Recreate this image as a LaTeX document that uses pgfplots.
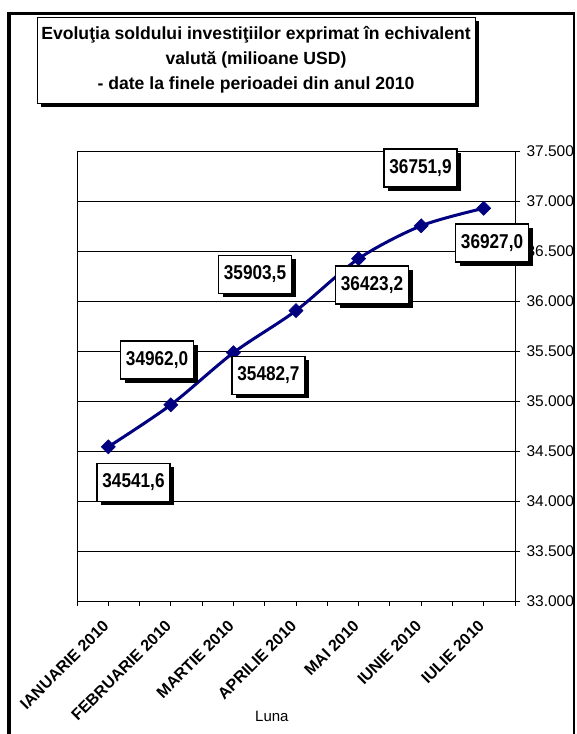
\documentclass[border=0pt]{standalone}
\usepackage{fontspec}
\setmainfont{Liberation Sans}
\usepackage{graphicx}
\usepackage{pgfplots}
\pgfplotsset{compat=1.18}
\usetikzlibrary{shadows}
\definecolor{navy}{RGB}{0,0,128}
\newcommand{\lbltext}[1]{\scalebox{0.86}[1]{\fontsize{20}{20}\selectfont\bfseries #1}}
\begin{document}
\begin{tikzpicture}[x=1pt,y=1pt,
  lbl/.style={draw, line width=1.2pt, fill=white, inner sep=0pt,
    general shadow={fill=black, shadow xshift=4pt, shadow yshift=-4pt},
    minimum width=73pt, minimum height=38pt}]
\useasboundingbox (0,0) rectangle (576,734);
\fill[white] (0,0) rectangle (576,734);
% title
\node[draw, line width=0.8pt, fill=white,
  general shadow={fill=black, shadow xshift=4pt, shadow yshift=-4pt},
  minimum width=438pt, minimum height=86pt, align=center,
  font=\fontsize{17.6}{25}\selectfont\bfseries] at (256,674)
  {Evoluţia soldului investiţiilor exprimat în echivalent\\valută (milioane USD)\\- date la finele perioadei din anul 2010};
\begin{axis}[at={(77pt,133pt)}, anchor=south west, scale only axis,
  width=438pt, height=450pt,
  xmin=0, xmax=7, ymin=33000, ymax=37500,
  scaled y ticks=false,
  axis line style={line width=0.8pt},
  ytick={33000,33500,...,37500},
  yticklabels={33.000,33.500,34.000,34.500,35.000,35.500,36.000,36.500,37.000,37.500},
  ytick pos=right, yticklabel pos=right,
  ymajorgrids, grid style={black, line width=0.6pt},
  tick align=outside, major tick length=5pt, minor tick length=5pt,
  tick style={black, line width=0.8pt},
  xtick={0.5,1.5,...,6.5},
  xticklabels={IANUARIE 2010,FEBRUARIE 2010,MARTIE 2010,APRILIE 2010,MAI 2010,IUNIE 2010,IULIE 2010},
  minor xtick={0,1,...,7},
  xtick pos=bottom,
  xticklabel shift=15pt,
  x tick label style={font=\fontsize{16}{16}\selectfont\bfseries, rotate=45, anchor=east},
  y tick label style={font=\fontsize{15.5}{16}\selectfont, anchor=west, xshift=3pt},
  xlabel={Luna},
  xlabel style={at={(axis description cs:0.445,0)}, yshift=-115pt, anchor=center, font=\fontsize{15}{15}\selectfont},
  clip=false]
\addplot[navy, line width=3pt, smooth, mark=square*, mark size=5pt,
  mark options={rotate=45, fill=navy, draw=navy, line width=0.5pt}]
  coordinates {(0.5,34541.6) (1.5,34962.0) (2.5,35482.7) (3.5,35903.5) (4.5,36423.2) (5.5,36751.9) (6.5,36927.0)};
\coordinate (l1) at (axis cs:0.903,34185);
\coordinate (l2) at (axis cs:1.279,35410);
\coordinate (l3) at (axis cs:3.06,35255);
\coordinate (l4) at (axis cs:2.845,36265);
\coordinate (l5) at (axis cs:4.715,36160);
\coordinate (l6) at (axis cs:5.49,37330);
\coordinate (l7) at (axis cs:6.633,36580);
\end{axis}
\node[lbl] at (l1) {\lbltext{34541,6}};
\node[lbl] at (l2) {\lbltext{34962,0}};
\node[lbl] at (l3) {\lbltext{35482,7}};
\node[lbl] at (l4) {\lbltext{35903,5}};
\node[lbl] at (l5) {\lbltext{36423,2}};
\node[lbl] at (l6) {\lbltext{36751,9}};
\node[lbl] at (l7) {\lbltext{36927,0}};
% frame
\draw[line width=4pt] (9,-5) -- (9,720.5);
\draw[line width=3.5pt] (7,720.5) -- (575,720.5);
\draw[line width=1.5pt] (574,722) -- (574,-5);
\end{tikzpicture}
\end{document}
